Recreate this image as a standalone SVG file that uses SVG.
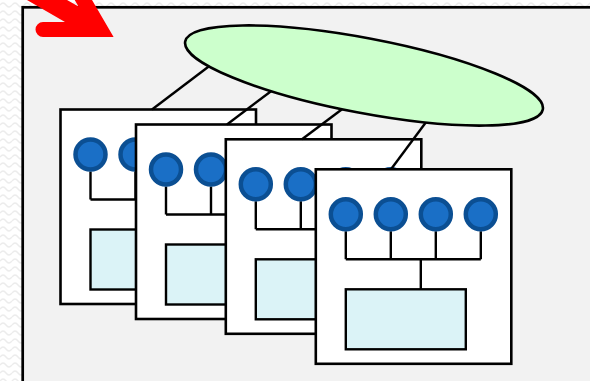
<svg xmlns="http://www.w3.org/2000/svg" width="590" height="381" viewBox="0 0 590 381">
  <defs>
    <!-- faint wavy texture for the page behind the frame -->
    <pattern id="wave" width="12" height="8" patternUnits="userSpaceOnUse">
      <rect width="12" height="8" fill="#ffffff"/>
      <path d="M0,5 Q3,1 6,5 T12,5" fill="none" stroke="#ececec" stroke-width="1.4"/>
    </pattern>
    <style>
      .frame { fill: #f2f2f2; stroke: #000; stroke-width: 2.7; }
      .card { fill: #ffffff; stroke: #000; stroke-width: 2.6; }
      .port { fill: #1a6fc6; stroke: #0b4f93; stroke-width: 4.5; }
      .wire { fill: none; stroke: #000; stroke-width: 2.4; }
      .core { fill: #dbf3f7; stroke: #000; stroke-width: 2.4; }
      .link { fill: none; stroke: #000; stroke-width: 2.4; }
      .hub { fill: #ccffcc; stroke: #000; stroke-width: 2.6; }
    </style>
    <!-- one card: four ports joined by a bus to a core block -->
    <g id="card">
      <rect class="card" x="0" y="0" width="195.5" height="194.5"/>
      <path class="wire" d="M30,62 V90 M75,62 V90 M120,62 V90 M165,62 V90 M30,90 H165 M105,90 V120"/>
      <circle class="port" cx="30" cy="45" r="15"/>
      <circle class="port" cx="75" cy="45" r="15"/>
      <circle class="port" cx="120" cy="45" r="15"/>
      <circle class="port" cx="165" cy="45" r="15"/>
      <rect class="core" x="30" y="120" width="120" height="60"/>
    </g>
  </defs>

  <!-- page and frame -->
  <rect x="0" y="0" width="590" height="381" fill="url(#wave)"/>
  <rect class="frame" x="22.7" y="7.3" width="620" height="420"/>

  <!-- pointer arrow -->
  <path id="pointer" fill="#ff0000"
        d="M9.7,-10 L65,22 L43,22 A7.5,7.5 0 0 0 43,37 L113.6,37 L86.2,-10 L68.9,-10 L78.5,6.6 L49.7,-10 Z"/>

  <!-- stacked cards -->
  <g id="card1"><use href="#card" x="60.5" y="109.5"/></g>
  <g id="card2"><use href="#card" x="136" y="124.5"/></g>
  <g id="card3"><use href="#card" x="225.8" y="139.3"/></g>
  <g id="card4"><use href="#card" x="315.8" y="169.3"/></g>

  <!-- links from the shared hub to each card -->
  <g id="connectors">
    <line class="link" x1="152" y1="109.5" x2="212" y2="64"/>
    <line class="link" x1="227" y1="124.5" x2="274" y2="89"/>
    <line class="link" x1="302" y1="139.3" x2="345" y2="107"/>
    <line class="link" x1="391" y1="169.3" x2="428" y2="119.5"/>
  </g>

  <!-- shared hub -->
  <g id="hub">
    <ellipse class="hub" cx="364" cy="75.5" rx="182" ry="37.5" transform="rotate(10.75 364 75.5)"/>
  </g>
</svg>
